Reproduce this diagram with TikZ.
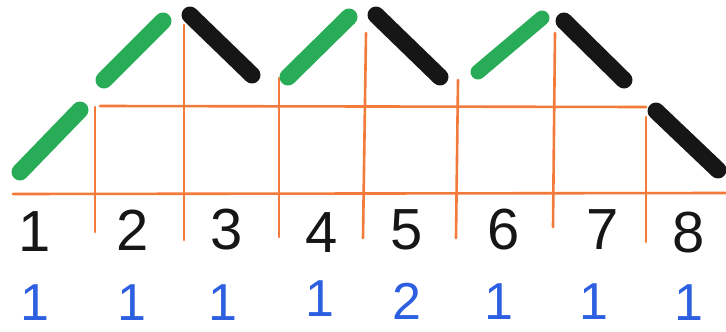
\documentclass[tikz,border=0pt]{standalone}
\usepackage{fontspec}
\setmainfont{Liberation Sans}
\definecolor{gridc}{RGB}{242,122,58}
\definecolor{mgreen}{RGB}{40,172,88}
\definecolor{mblue}{RGB}{45,95,225}
\definecolor{ink}{RGB}{22,22,22}
\begin{document}
\begin{tikzpicture}[x=1pt,y=-1pt,
  gridline/.style={draw=gridc,line width=2.6pt,line cap=round},
  upstroke/.style={draw=mgreen,line width=17pt,line cap=round},
  downstroke/.style={draw=ink,line width=17pt,line cap=round},
  posnum/.style={font=\fontsize{58}{58}\selectfont,text=ink,inner sep=0pt},
  cntnum/.style={font=\fontsize{52}{52}\selectfont,text=mblue,inner sep=0pt,text depth=0pt}]
\useasboundingbox (0,0) rectangle (726,332);
% grid coordinates
\coordinate (bl) at (13,194);
\coordinate (br) at (726,193);
\coordinate (tl) at (100,106);
\coordinate (tr) at (646,107);
\coordinate (v1t) at (95,107);  \coordinate (v1b) at (95,232);
\coordinate (v2t) at (184,25);  \coordinate (v2b) at (184,240);
\coordinate (v3t) at (279,78);  \coordinate (v3b) at (279,237);
\coordinate (v4t) at (366,33);  \coordinate (v4b) at (363,238);
\coordinate (v5t) at (458,80);  \coordinate (v5b) at (456,238);
\coordinate (v6t) at (555,33);  \coordinate (v6b) at (553,227);
\coordinate (v7t) at (646,117); \coordinate (v7b) at (646,242);
% grid lines
\draw[gridline] (bl) -- (br);
\draw[gridline] (tl) -- (tr);
\foreach \i in {1,...,7} {\draw[gridline] (v\i t) -- (v\i b);}
% strokes
\coordinate (g1a) at (20,172); \coordinate (g1b) at (80,110);
\coordinate (g2a) at (104,80); \coordinate (g2b) at (163,21);
\coordinate (k3a) at (190,15); \coordinate (k3b) at (252,75);
\coordinate (g4a) at (288,77); \coordinate (g4b) at (349,17);
\coordinate (k5a) at (376,15); \coordinate (k5b) at (440,77);
\coordinate (g6a) at (478,72); \coordinate (g6b) at (542,18);
\coordinate (k7a) at (564,21); \coordinate (k7b) at (624,80);
\coordinate (k8a) at (656,111); \coordinate (k8b) at (718,170);
\draw[upstroke] (g1a) -- (g1b);
\draw[upstroke] (g2a) -- (g2b);
\draw[downstroke] (k3a) -- (k3b);
\draw[upstroke] (g4a) -- (g4b);
\draw[downstroke] (k5a) -- (k5b);
\draw[upstroke,line width=15pt] (g6a) -- (g6b);
\draw[downstroke] (k7a) -- (k7b);
\draw[downstroke] (k8a) -- (k8b);
% position numbers
\node[posnum] (p1) at (35,232) {1};
\node[posnum] (p2) at (133,230) {2};
\node[posnum] (p3) at (227,230) {3};
\node[posnum] (p4) at (322,233) {4};
\node[posnum] (p5) at (407,230) {5};
\node[posnum] (p6) at (504,230) {6};
\node[posnum] (p7) at (603,230) {7};
\node[posnum] (p8) at (689,233) {8};
% counts
\node[cntnum] (c1) at (35,303) {1};
\node[cntnum] (c2) at (132,303) {1};
\node[cntnum] (c3) at (223,303) {1};
\node[cntnum] (c4) at (320,299) {1};
\node[cntnum] (c5) at (407,301) {2};
\node[cntnum] (c6) at (499,302) {1};
\node[cntnum] (c7) at (594,302) {1};
\node[cntnum] (c8) at (689,303) {1};
\end{tikzpicture}
\end{document}
